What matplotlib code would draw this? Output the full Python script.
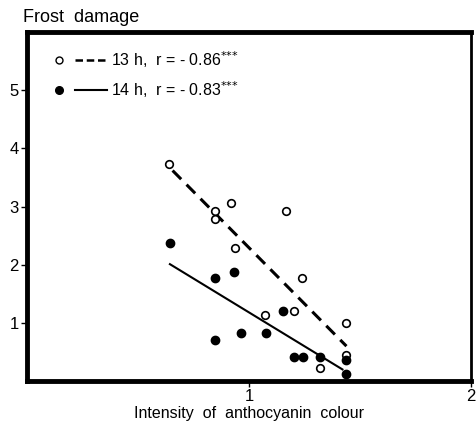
import matplotlib
matplotlib.use("Agg")
import matplotlib.pyplot as plt
from matplotlib.lines import Line2D
from matplotlib.legend_handler import HandlerTuple

plt.rcParams['font.family'] = ['Liberation Sans', 'DejaVu Sans']

# 13 h (open circles)
x13 = [0.64, 0.92, 0.847, 0.847, 1.165, 0.935, 1.24, 1.072, 1.20, 1.438, 1.438, 1.317]
y13 = [3.73, 3.07, 2.93, 2.78, 2.93, 2.29, 1.78, 1.13, 1.20, 1.00, 0.45, 0.23]
# 14 h (filled circles)
x14 = [0.643, 0.847, 0.932, 0.847, 0.962, 1.077, 1.153, 1.20, 1.243, 1.32, 1.438, 1.435]
y14 = [2.37, 1.78, 1.87, 0.70, 0.82, 0.82, 1.21, 0.42, 0.42, 0.41, 0.37, 0.12]
# regression lines (endpoints)
fit13_x = [0.655, 1.438]
fit13_y = [3.62, 0.60]
fit14_x = [0.643, 1.42]
fit14_y = [2.01, 0.20]

xticks = [1, 2]
yticks = [1, 2, 3, 4, 5]
label13 = "13 h,  r = - 0.86$^{{*}{*}{*}}$"
label14 = "14 h,  r = - 0.83$^{{*}{*}{*}}$"

fig = plt.figure(figsize=(4.76, 4.34), dpi=100)
ax = fig.add_axes([0.057, 0.122, 0.933, 0.804])

ax.plot(fit13_x, fit13_y, color='black', linestyle=(0, (4, 2.5)), linewidth=2.2)
ax.plot(fit14_x, fit14_y, color='black', linestyle='-', linewidth=1.5)
ax.scatter(x13, y13, s=30, facecolor='white', edgecolor='black', linewidth=1.2, zorder=3)
ax.scatter(x14, y14, s=36, facecolor='black', edgecolor='black', linewidth=1.0, zorder=4)

ax.set_xlim(0, 2)
ax.set_ylim(0, 6)
ax.set_xticks(xticks)
ax.set_xticklabels([str(t) for t in xticks])
ax.set_yticks(yticks)
ax.set_yticklabels([str(t) for t in yticks])
ax.tick_params(axis='both', labelsize=12, length=4, width=1, direction='out', pad=2)

for s in ['left', 'bottom', 'top']:
    ax.spines[s].set_linewidth(3.5)
ax.spines['right'].set_linewidth(2)

ax.set_xlabel("Intensity  of  anthocyanin  colour", fontsize=11.5, labelpad=1)
fig.text(0.048, 0.949, "Frost  damage", fontsize=13, va='baseline', ha='left')

m13 = Line2D([], [], marker='o', linestyle='none', markerfacecolor='white',
             markeredgecolor='black', markersize=5, markeredgewidth=1)
l13 = Line2D([], [], color='black', linestyle=(0, (3, 1.5)), linewidth=1.8)
m14 = Line2D([], [], marker='o', linestyle='none', markerfacecolor='black',
             markeredgecolor='black', markersize=5.5)
l14 = Line2D([], [], color='black', linestyle='-', linewidth=1.5)
leg = ax.legend([(m13, l13), (m14, l14)], [label13, label14],
                handler_map={tuple: HandlerTuple(ndivide=None, pad=0)},
                loc='upper left', bbox_to_anchor=(0.035, 0.952), frameon=False,
                borderpad=0, borderaxespad=0,
                handlelength=4.0, handletextpad=0.3, fontsize=11.5, labelspacing=0.6)

fig.savefig("out.png", dpi=100)
